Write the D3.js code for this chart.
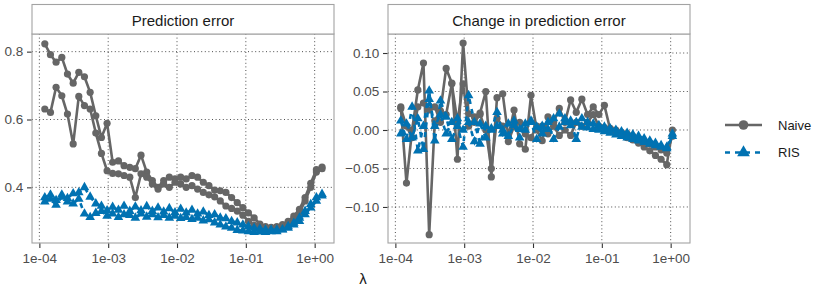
<!DOCTYPE html>
<html>
<head>
<meta charset="utf-8">
<script src="https://cdn.jsdelivr.net/npm/d3@7"></script>
<style>
  body { margin: 0; background: #fff; }
  svg { display: block; font-family: "Liberation Sans", Arial, sans-serif; }
</style>
</head>
<body>
<svg id="chart" width="830" height="297"></svg>
<script>
// lambda grid (shared by every series)
const lambda = [1.20e-4, 1.45e-4, 1.75e-4, 2.12e-4, 2.56e-4, 3.10e-4, 3.74e-4, 4.52e-4, 5.47e-4, 6.61e-4,
  7.98e-4, 9.64e-4, 1.16e-3, 1.41e-3, 1.70e-3, 2.06e-3, 2.48e-3, 3.00e-3, 3.63e-3, 4.38e-3,
  5.30e-3, 6.40e-3, 7.73e-3, 9.35e-3, 1.13e-2, 1.36e-2, 1.65e-2, 1.99e-2, 2.41e-2, 2.91e-2,
  3.52e-2, 4.25e-2, 5.13e-2, 6.21e-2, 7.50e-2, 9.06e-2, 1.09e-1, 1.32e-1, 1.60e-1, 1.93e-1,
  2.33e-1, 2.82e-1, 3.41e-1, 4.12e-1, 4.98e-1, 6.01e-1, 7.26e-1, 8.77e-1, 1.06, 1.28];

// prediction error
const naiveErrA = [0.823, 0.791, 0.769, 0.783, 0.734, 0.707, 0.739, 0.726, 0.680, 0.611,
  0.547, 0.589, 0.474, 0.478, 0.464, 0.459, 0.455, 0.495, 0.445, 0.420,
  0.400, 0.420, 0.430, 0.425, 0.430, 0.425, 0.435, 0.430, 0.415, 0.405,
  0.392, 0.390, 0.385, 0.370, 0.355, 0.340, 0.325, 0.310, 0.292, 0.284,
  0.282, 0.284, 0.290, 0.300, 0.315, 0.335, 0.370, 0.412, 0.452, 0.460];
const naiveErrB = [0.631, 0.621, 0.695, 0.670, 0.616, 0.528, 0.668, 0.641, 0.631, 0.560,
  0.500, 0.449, 0.441, 0.440, 0.435, 0.430, 0.370, 0.440, 0.430, 0.410,
  0.395, 0.410, 0.400, 0.415, 0.410, 0.400, 0.405, 0.395, 0.385, 0.378,
  0.372, 0.360, 0.345, 0.338, 0.330, 0.318, 0.300, 0.288, 0.282, 0.280,
  0.280, 0.281, 0.284, 0.292, 0.305, 0.325, 0.360, 0.400, 0.445, 0.455];
const risErrA = [0.370, 0.378, 0.362, 0.378, 0.368, 0.382, 0.385, 0.400, 0.372, 0.352,
  0.345, 0.332, 0.342, 0.333, 0.345, 0.330, 0.343, 0.332, 0.344, 0.330,
  0.340, 0.328, 0.338, 0.326, 0.336, 0.325, 0.333, 0.322, 0.328, 0.318,
  0.320, 0.310, 0.308, 0.300, 0.296, 0.290, 0.285, 0.280, 0.278, 0.275,
  0.275, 0.275, 0.276, 0.280, 0.290, 0.300, 0.320, 0.340, 0.360, 0.380];
const risErrB = [0.358, 0.366, 0.348, 0.372, 0.358, 0.352, 0.366, 0.322, 0.312, 0.324,
  0.330, 0.316, 0.322, 0.312, 0.320, 0.318, 0.310, 0.322, 0.313, 0.320,
  0.311, 0.318, 0.310, 0.316, 0.309, 0.312, 0.306, 0.310, 0.302, 0.305,
  0.296, 0.290, 0.284, 0.280, 0.274, 0.272, 0.270, 0.268, 0.269, 0.268,
  0.270, 0.270, 0.275, 0.285, 0.295, 0.310, 0.330, 0.350, 0.370, 0.375];

// change in prediction error (first 49 lambdas)
const naiveChgA = [0.030, -0.069, 0.000, 0.052, 0.087, -0.136, 0.012, 0.025, 0.080, 0.061,
  -0.038, 0.113, 0.021, 0.017, 0.022, 0.050, -0.061, 0.042, 0.047, -0.009,
  0.026, -0.018, -0.025, 0.045, 0.000, -0.014, 0.017, 0.010, 0.028, 0.010,
  0.039, 0.023, 0.040, 0.020, 0.030, 0.020, 0.032, 0.001, -0.002, -0.005,
  -0.010, -0.013, -0.017, -0.022, -0.027, -0.033, -0.038, -0.045, 0.000];
const naiveChgB = [0.028, 0.005, -0.010, 0.030, 0.035, 0.026, 0.030, 0.010, 0.020, 0.060,
  0.010, 0.060, 0.005, 0.010, 0.020, 0.000, -0.050, 0.015, 0.005, -0.015,
  0.005, 0.010, -0.005, -0.010, 0.005, 0.005, -0.005, 0.005, -0.007, 0.000,
  -0.007, 0.010, 0.005, 0.010, 0.020, 0.005, 0.003, 0.002, 0.000, -0.003,
  -0.005, -0.008, -0.011, -0.014, -0.018, -0.022, -0.026, -0.030, -0.008];
const risChgA = [0.012, -0.012, 0.030, -0.027, 0.005, 0.051, -0.014, 0.038, 0.017, -0.012,
  0.005, -0.022, 0.045, 0.010, -0.018, 0.005, 0.000, 0.023, -0.005, 0.008,
  0.012, 0.001, 0.008, 0.010, -0.012, 0.005, 0.001, 0.015, 0.021, 0.010,
  0.012, -0.012, 0.015, 0.010, 0.008, 0.006, 0.004, 0.002, 0.000, -0.002,
  -0.004, -0.006, -0.008, -0.011, -0.014, -0.017, -0.020, -0.022, -0.005];
const risChgB = [-0.005, 0.008, -0.010, 0.015, -0.025, 0.040, 0.005, 0.020, -0.005, 0.010,
  0.015, 0.000, 0.010, -0.015, 0.008, -0.010, 0.002, 0.005, 0.000, -0.008,
  0.006, -0.010, 0.000, 0.012, 0.004, -0.005, 0.010, -0.012, 0.004, 0.015,
  0.006, 0.010, 0.004, 0.003, 0.001, 0.000, -0.002, -0.004, -0.006, -0.008,
  -0.010, -0.012, -0.014, -0.016, -0.018, -0.020, -0.022, -0.024, -0.008];

const xTicks = [1e-4, 1e-3, 1e-2, 1e-1, 1e0];
const xTickLabels = ["1e-04", "1e-03", "1e-02", "1e-01", "1e+00"];
const yTicks1 = [0.4, 0.6, 0.8];
const yTicks2 = [-0.10, -0.05, 0.00, 0.05, 0.10];
const methods = ["Naive", "RIS"];

const gray = "#666666", blue = "#0072B2";
const svg = d3.select("#chart");

const panels = [
  { title: "Prediction error", x0: 32, x1: 334, yDom: [0.236, 0.852], yTicks: yTicks1, fmt: d3.format(".1f"),
    series: [[naiveErrA, "Naive"], [naiveErrB, "Naive"], [risErrA, "RIS"], [risErrB, "RIS"]] },
  { title: "Change in prediction error", x0: 388, x1: 690, yDom: [-0.1468, 0.1247], yTicks: yTicks2, fmt: d3.format(".2f"),
    series: [[naiveChgA, "Naive"], [naiveChgB, "Naive"], [risChgA, "RIS"], [risChgB, "RIS"]] }
];
const panelTop = 34, panelBottom = 243, stripTop = 4.5;

const tri = d3.symbol().type(d3.symbolTriangle).size(40);

panels.forEach(p => {
  const x = d3.scaleLog().domain([Math.pow(10, -4.107), Math.pow(10, 0.281)]).range([p.x0, p.x1]);
  const y = d3.scaleLinear().domain(p.yDom).range([panelBottom, panelTop]);
  const g = svg.append("g");

  g.append("rect").attr("x", p.x0).attr("y", panelTop).attr("width", p.x1 - p.x0).attr("height", panelBottom - panelTop)
    .attr("fill", "#fff");

  // grid
  g.selectAll(".gx").data(xTicks).join("line")
    .attr("x1", d => x(d)).attr("x2", d => x(d)).attr("y1", panelTop).attr("y2", panelBottom)
    .attr("stroke", "#3a3a3a").attr("stroke-width", 0.9).attr("stroke-dasharray", "1,2.6");
  g.selectAll(".gy").data(p.yTicks).join("line")
    .attr("x1", p.x0).attr("x2", p.x1).attr("y1", d => y(d)).attr("y2", d => y(d))
    .attr("stroke", "#3a3a3a").attr("stroke-width", 0.9).attr("stroke-dasharray", "1,2.6");

  // series
  const clip = "clip" + p.x0;
  svg.append("clipPath").attr("id", clip).append("rect")
    .attr("x", p.x0).attr("y", panelTop).attr("width", p.x1 - p.x0).attr("height", panelBottom - panelTop);
  const data = g.append("g").attr("clip-path", `url(#${clip})`);
  const line = vals => d3.line().x((d, i) => x(lambda[i])).y(d => y(d))(vals);

  p.series.filter(s => s[1] === "Naive").forEach(([vals]) => {
    data.append("path").attr("d", line(vals)).attr("fill", "none")
      .attr("stroke", gray).attr("stroke-width", 2.6).attr("stroke-linejoin", "round");
    data.append("g").selectAll("circle").data(vals).join("circle")
      .attr("cx", (d, i) => x(lambda[i])).attr("cy", d => y(d)).attr("r", 3.6).attr("fill", gray);
  });
  p.series.filter(s => s[1] === "RIS").forEach(([vals]) => {
    data.append("path").attr("d", line(vals)).attr("fill", "none")
      .attr("stroke", blue).attr("stroke-width", 2.6).attr("stroke-dasharray", "5,5");
    data.append("g").selectAll("path").data(vals).join("path")
      .attr("d", tri).attr("transform", (d, i) => `translate(${x(lambda[i])},${y(d)})`).attr("fill", blue);
  });

  // border
  g.append("rect").attr("x", p.x0).attr("y", panelTop).attr("width", p.x1 - p.x0).attr("height", panelBottom - panelTop)
    .attr("fill", "none").attr("stroke", "#a3a3a3").attr("stroke-width", 1.1);

  // strip
  g.append("rect").attr("x", p.x0).attr("y", stripTop).attr("width", p.x1 - p.x0).attr("height", panelTop - stripTop)
    .attr("fill", "#fff").attr("stroke", "#a3a3a3").attr("stroke-width", 1.1);
  g.append("text").attr("x", (p.x0 + p.x1) / 2).attr("y", 25.5)
    .attr("text-anchor", "middle").attr("font-size", 15).attr("fill", "#1a1a1a").text(p.title);

  // axes
  const xa = d3.axisBottom(x).tickValues(xTicks).tickFormat((d, i) => xTickLabels[i]).tickSize(4.5).tickPadding(5);
  const xg = g.append("g").attr("transform", `translate(0,${panelBottom + 0.5})`).call(xa);
  const ya = d3.axisLeft(y).tickValues(p.yTicks).tickFormat(p.fmt).tickSize(4.5).tickPadding(3.7);
  const yg = g.append("g").attr("transform", `translate(${p.x0 - 0.5},0)`).call(ya);
  [xg, yg].forEach(a => {
    a.select(".domain").remove();
    a.selectAll(".tick line").attr("stroke", "#333").attr("stroke-width", 1.1);
    a.selectAll(".tick text").attr("fill", "#4d4d4d").attr("font-size", 13.5)
      .attr("font-family", "'Liberation Sans', Arial, sans-serif");
  });
});

// axis title
svg.append("text").attr("x", 363).attr("y", 284).attr("text-anchor", "middle")
  .attr("font-size", 15).attr("fill", "#1a1a1a").text("λ");

// legend
const leg = svg.append("g");
methods.forEach((m, i) => {
  const cy = 125 + i * 27.5;
  const col = m === "Naive" ? gray : blue;
  leg.append("line").attr("x1", 725).attr("x2", 762).attr("y1", cy).attr("y2", cy)
    .attr("stroke", col).attr("stroke-width", 2.7)
    .attr("stroke-dasharray", m === "RIS" ? "5,5" : null);
  if (m === "Naive") {
    leg.append("circle").attr("cx", 743.5).attr("cy", cy).attr("r", 4.8).attr("fill", col);
  } else {
    leg.append("path").attr("d", d3.symbol().type(d3.symbolTriangle).size(70))
      .attr("transform", `translate(743.5,${cy})`).attr("fill", col);
  }
  leg.append("text").attr("x", 778).attr("y", cy + 4.7).attr("font-size", 13).attr("fill", "#1a1a1a").text(m);
});
</script>
</body>
</html>
